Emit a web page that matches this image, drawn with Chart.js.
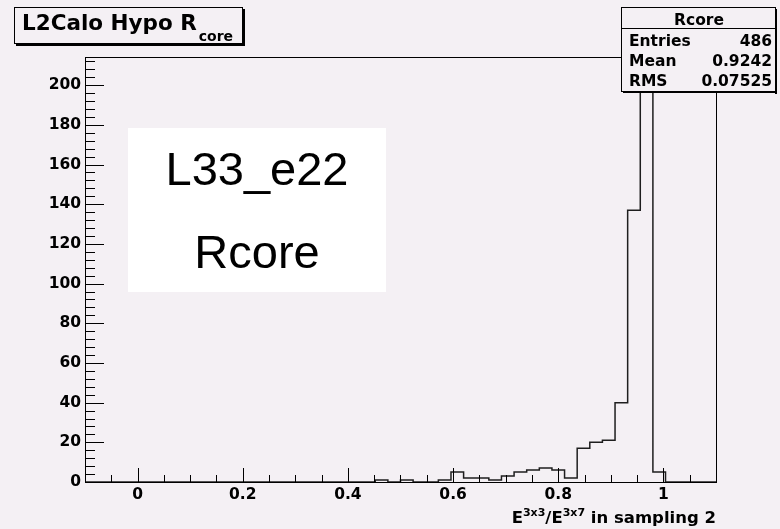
<!DOCTYPE html>
<html><head><meta charset="utf-8">
<script src="https://cdn.jsdelivr.net/npm/chart.js@4"></script>
<style>html,body{margin:0;padding:0;background:#f4f0f4;}#wrap{width:780px;height:529px;position:relative;}</style>
</head><body><div id="wrap"><canvas id="c" width="780" height="529"></canvas></div>
<script>
// ---- data (bin lower edges, counts per bin) ----
const binLowEdges = [-0.100,-0.076,-0.052,-0.028,-0.004,0.020,0.044,0.068,0.092,0.116,
  0.140,0.164,0.188,0.212,0.236,0.260,0.284,0.308,0.332,0.356,
  0.380,0.404,0.428,0.452,0.476,0.500,0.524,0.548,0.572,0.596,
  0.620,0.644,0.668,0.692,0.716,0.740,0.764,0.788,0.812,0.836,
  0.860,0.884,0.908,0.932,0.956,0.980,1.004,1.028,1.052,1.076];
const lastBinUpperEdge = 1.100;
const counts = [0,0,0,0,0,0,0,0,0,0,
  0,0,0,0,0,0,0,0,0,0,
  0,0,0,1,0,1,0,0,1,5,
  2,2,1,3,5,6,7,6,2,17,
  20,21,40,137,204,5,0,0,0,0];
const xTickValues = [0,0.2,0.4,0.6,0.8,1];
const xTickLabels = ["0","0.2","0.4","0.6","0.8","1"];
const yTickValues = [0,20,40,60,80,100,120,140,160,180,200];
const yTickLabels = ["0","20","40","60","80","100","120","140","160","180","200"];
const xMinorStep = 0.05;
const yMinorStep = 4;
const titleMain = "L2Calo Hypo R";
const titleSub = "core";
const statsName = "Rcore";
const statsLabels = ["Entries","Mean","RMS"];
const statsValues = ["486","0.9242","0.07525"];
const overlayLines = ["L33_e22","Rcore"];

const BG = '#f4f0f4';
const FONT = "'DejaVu Sans'";

const points = binLowEdges.map((x,i)=>({x:x,y:counts[i]}));
points.push({x:lastBinUpperEdge,y:counts[counts.length-1]});

const decor = {
  id:'decor',
  beforeDraw(chart){
    const ctx=chart.ctx; ctx.save(); ctx.fillStyle=BG; ctx.fillRect(0,0,chart.width,chart.height); ctx.restore();
  },
  afterDraw(chart){
    const ctx=chart.ctx, a=chart.chartArea, xs=chart.scales.x, ys=chart.scales.y;
    ctx.save();
    // frame
    ctx.strokeStyle='#000'; ctx.lineWidth=1;
    ctx.strokeRect(Math.round(a.left)+0.5, Math.round(a.top)+0.5, Math.round(a.right-a.left), Math.round(a.bottom-a.top));
    // y ticks
    ctx.beginPath();
    for(let v=0; v<=ys.max+1e-9; v+=yMinorStep){
      const major = Math.abs(v/20-Math.round(v/20))<1e-6;
      const py=Math.round(ys.getPixelForValue(v))+0.5;
      ctx.moveTo(a.left, py); ctx.lineTo(a.left+(major?19:10), py);
    }
    // x ticks
    for(let k=-2; k<=22; k++){
      const v=k*xMinorStep; if(v<xs.min-1e-9||v>xs.max+1e-9) continue;
      const major = (k%4===0);
      const px=Math.round(xs.getPixelForValue(v))+0.5;
      ctx.moveTo(px, a.bottom); ctx.lineTo(px, a.bottom-(major?14:7));
    }
    ctx.stroke();

    // title box
    ctx.fillStyle=BG; ctx.fillRect(14,7,229,37);
    ctx.fillStyle='#000';
    ctx.fillRect(243,9,2,37); ctx.fillRect(16,44,229,2);
    ctx.strokeRect(14.5,7.5,228,36);
    ctx.font="bold 21.5px "+FONT; ctx.textBaseline='alphabetic'; ctx.textAlign='left';
    ctx.fillText(titleMain,22,30);
    const w=ctx.measureText(titleMain).width;
    ctx.font="bold 14px "+FONT; ctx.fillText(titleSub,22+w+2,41);

    // stats box
    const sl=621, st=7, sr=775, sb=91;
    ctx.fillStyle=BG; ctx.fillRect(sl,st,sr-sl,sb-st);
    ctx.fillStyle='#000';
    ctx.fillRect(sr,st+2,2,sb-st+1); ctx.fillRect(sl+2,sb,sr-sl,2);
    ctx.strokeRect(sl+0.5,st+0.5,sr-sl,sb-st);
    ctx.beginPath(); ctx.moveTo(sl,28.5); ctx.lineTo(sr,28.5); ctx.stroke();
    ctx.font="bold 15.5px "+FONT;
    ctx.textAlign='center'; ctx.fillText(statsName,(sl+sr)/2+1,25);
    for(let i=0;i<statsLabels.length;i++){
      const by=46+20*i;
      ctx.textAlign='left'; ctx.fillText(statsLabels[i],629,by);
      ctx.textAlign='right'; ctx.fillText(statsValues[i],772,by);
    }

    // overlay white box
    ctx.fillStyle='#ffffff'; ctx.fillRect(128,128,258,164);
    ctx.fillStyle='#000'; ctx.font="47px 'Liberation Sans'"; ctx.textAlign='center';
    ctx.fillText(overlayLines[0],257,185);
    ctx.fillText(overlayLines[1],257,268);

    // x-axis title: E^{3x3}/E^{3x7} in sampling 2
    const parts=[["E",0],["3x3",1],["/E",0],["3x7",1],[" in sampling 2",0]];
    const mainF="bold 16.5px "+FONT, supF="bold 11px "+FONT;
    let total=0;
    parts.forEach(p=>{ctx.font=p[1]?supF:mainF; total+=ctx.measureText(p[0]).width;});
    let x=a.right-total; const base=523;
    ctx.textAlign='left';
    parts.forEach(p=>{ctx.font=p[1]?supF:mainF; ctx.fillText(p[0],x,p[1]?base-7:base); x+=ctx.measureText(p[0]).width;});
    ctx.restore();
  }
};

new Chart(document.getElementById('c'),{
  type:'line',
  data:{datasets:[{data:points,stepped:'before',borderColor:'#1e1e1e',borderWidth:1.5,pointRadius:0,fill:false,tension:0}]},
  options:{
    responsive:false,animation:false,devicePixelRatio:1,
    layout:{padding:{left:0,top:57,right:64,bottom:0}},
    plugins:{legend:{display:false},tooltip:{enabled:false},title:{display:false}},
    scales:{
      x:{type:'linear',min:-0.1,max:1.1,
        afterBuildTicks:s=>{s.ticks=xTickValues.map(v=>({value:v}));},
        afterFit:s=>{s.height=47;},
        grid:{display:false,drawTicks:false},border:{display:false},
        ticks:{autoSkip:false,maxRotation:0,padding:4,color:'#000',font:{family:'DejaVu Sans',weight:'bold',size:15.5},
          callback:(v,i)=>xTickLabels[i]}},
      y:{type:'linear',min:0,max:214.2,
        afterBuildTicks:s=>{s.ticks=yTickValues.map(v=>({value:v}));},
        afterFit:s=>{s.width=85;},
        grid:{display:false,drawTicks:false},border:{display:false},
        ticks:{autoSkip:false,padding:4,color:'#000',font:{family:'DejaVu Sans',weight:'bold',size:15.5},
          callback:(v,i)=>yTickLabels[i]}}
    }
  },
  plugins:[decor]
});
</script></body></html>
